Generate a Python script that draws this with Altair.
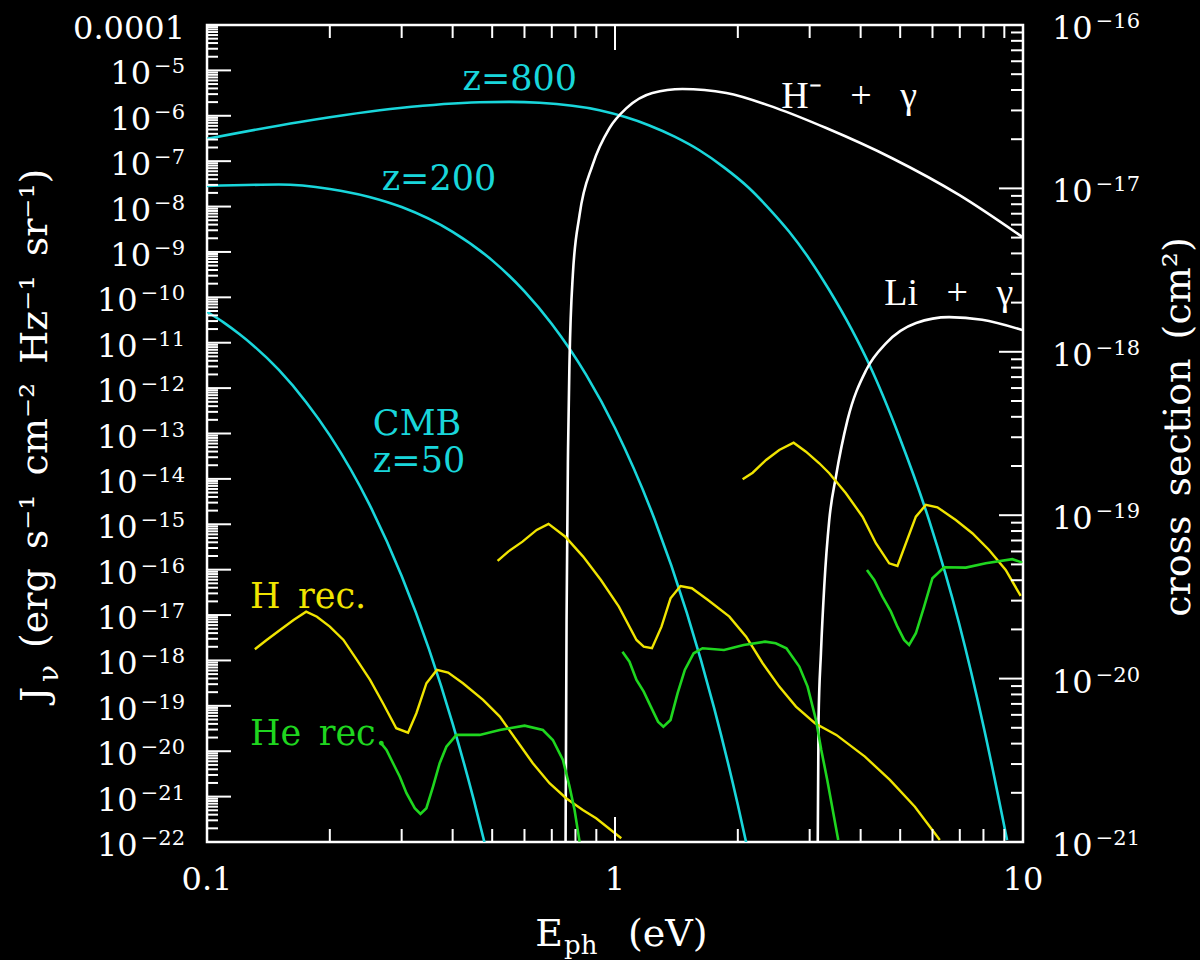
import altair as alt
import pandas as pd

# ---------------- values ----------------
# CMB spectra  J_nu (erg s^-1 cm^-2 Hz^-1 sr^-1) vs photon energy (eV)
cmb800_E = [0.1, 0.169, 0.297, 0.466, 0.55, 0.653, 0.916, 1.21, 1.4, 1.61, 1.85, 2.13, 2.4, 2.67, 3.0, 3.35, 3.8,
            4.20, 4.97, 5.89, 6.97, 8.03, 9.14]
cmb800_J = [3.09e-7, 7.30e-7, 1.48e-6, 1.98e-6, 2.02e-6, 1.93e-6, 1.32e-6, 6.2e-7, 3.47e-7, 1.74e-7, 7.31e-8, 2.57e-8,
            8.5e-9, 2.82e-9, 6.85e-10, 1.45e-10, 1.99e-11, 3.3e-12, 8.7e-14, 1.2e-15, 6.6e-18, 3.1e-20, 1.1e-22]

cmb200_E = [0.1, 0.15, 0.2, 0.25, 0.3, 0.4, 0.5, 0.6, 0.7, 0.85, 1.0, 1.25, 1.5, 1.75, 2.0, 2.10]
cmb200_J = [2.84e-8, 3.05e-8, 2.44e-8, 1.63e-8, 9.75e-9, 2.77e-9, 6.52e-10, 1.35e-10, 2.58e-11, 1.95e-12, 1.32e-13,
            1.29e-15, 1.12e-17, 8.9e-20, 6.6e-22, 9.1e-23]

cmb50_E = [0.1, 0.11, 0.12, 0.13, 0.15, 0.175, 0.2, 0.25, 0.3, 0.35, 0.4, 0.45, 0.48]
cmb50_J = [4.79e-11, 2.77e-11, 1.55e-11, 8.6e-12, 2.51e-12, 4.9e-13, 9.1e-14, 2.75e-15, 7.24e-17, 1.78e-18, 4.07e-20,
           8.9e-22, 8.9e-23]

# recombination radiation, z=50
hrec50_E = [0.131, 0.140, 0.151, 0.163, 0.175, 0.186, 0.200, 0.216, 0.233, 0.251, 0.270, 0.291, 0.311, 0.326, 0.345,
            0.366, 0.390, 0.424, 0.475, 0.522, 0.573, 0.629, 0.691, 0.759, 0.834, 0.899, 1.036]
hrec50_J = [1.77e-18, 2.83e-18, 4.70e-18, 7.80e-18, 1.19e-17, 9.2e-18, 5.55e-18, 2.83e-18, 1.03e-18, 3.72e-19, 1.14e-19,
            3.21e-20, 2.56e-20, 6.87e-20, 3.15e-19, 6.18e-19, 5.39e-19, 3.15e-19, 1.35e-19, 5.78e-20, 1.77e-20, 5.43e-21,
            1.97e-21, 9.2e-22, 5.08e-22, 3.33e-22, 1.21e-22]
herec50_E = [0.2652, 0.2754, 0.2858, 0.2969, 0.3083, 0.3230, 0.3336, 0.3449, 0.3581, 0.3718, 0.3861, 0.4087, 0.4660,
             0.5217, 0.6004, 0.6657, 0.7042, 0.7454, 0.7737, 0.7960, 0.8187]
herec50_J = [1.63e-20, 1.07e-20, 5.43e-21, 2.75e-21, 1.19e-21, 5.55e-22, 4.15e-22, 5.55e-22, 1.66e-21, 5.43e-21, 1.26e-20,
             2.29e-20, 2.29e-20, 2.94e-20, 3.66e-20, 2.94e-20, 1.77e-20, 6.43e-21, 1.66e-21, 5.08e-22, 1.02e-22]

# recombination radiation, z=200
hrec200_E = [0.5155, 0.5474, 0.5933, 0.6428, 0.6871, 0.7554, 0.8353, 0.9236, 1.022, 1.129, 1.176, 1.232, 1.300, 1.368,
             1.447, 1.543, 1.690, 1.907, 2.096, 2.301, 2.527, 2.777, 3.091, 3.487, 4.098, 4.718, 5.432, 6.254]
hrec200_J = [1.56e-16, 2.50e-16, 4.14e-16, 7.50e-16, 1.02e-15, 5.33e-16, 1.94e-16, 5.93e-17, 1.53e-17, 2.83e-18, 2.01e-18,
             1.86e-18, 5.55e-18, 2.34e-17, 4.37e-17, 3.90e-17, 2.15e-17, 9.23e-18, 3.34e-18, 8.67e-19, 2.65e-19, 9.6e-20,
             4.14e-20, 2.29e-20, 7.6e-21, 2.33e-21, 6.0e-22, 1.11e-22]
herec200_E = [1.043, 1.085, 1.129, 1.176, 1.224, 1.275, 1.314, 1.368, 1.424, 1.483, 1.559, 1.639, 1.850, 2.067, 2.332,
              2.477, 2.631, 2.829, 2.965, 3.109, 3.203, 3.313, 3.525]
herec200_J = [1.56e-18, 9.4e-19, 3.72e-19, 2.06e-19, 9.6e-20, 4.49e-20, 3.48e-20, 4.89e-20, 1.90e-19, 6.18e-19, 1.44e-18,
              1.86e-18, 1.70e-18, 2.19e-18, 2.59e-18, 2.39e-18, 1.86e-18, 7.31e-19, 2.65e-19, 4.89e-20, 1.07e-20,
              2.33e-21, 1.11e-22]

# recombination radiation, z=800
hrec800_E = [2.055, 2.175, 2.346, 2.527, 2.740, 2.938, 3.167, 3.351, 3.681, 4.043, 4.359, 4.699, 4.923, 5.164, 5.463,
             5.778, 6.169, 6.843, 7.513, 8.258, 9.07, 9.87]
hrec800_J = [9.8e-15, 1.37e-14, 2.61e-14, 4.34e-14, 6.28e-14, 3.98e-14, 2.21e-14, 1.33e-14, 4.82e-15, 1.47e-15, 3.82e-16,
             1.38e-16, 1.21e-16, 3.82e-16, 1.47e-15, 2.67e-15, 2.37e-15, 1.24e-15, 6.34e-16, 2.72e-16, 9.86e-17, 2.64e-17]
herec800_E = [4.145, 4.318, 4.524, 4.745, 4.923, 5.113, 5.259, 5.463, 5.723, 5.998, 6.407, 7.241, 8.106, 9.415, 9.96]
herec800_J = [9.86e-17, 5.93e-17, 2.54e-17, 1.19e-17, 5.55e-18, 2.83e-18, 2.19e-18, 3.97e-18, 1.53e-17, 6.47e-17,
              1.13e-16, 1.11e-16, 1.38e-16, 1.70e-16, 1.43e-16]

# photodetachment / photoionisation cross sections (cm^2), right axis
hminus_E = [0.7566, 0.7608, 0.7672, 0.7737, 0.7882, 0.8187, 0.8810, 0.9694, 1.067, 1.235, 1.463, 1.875, 2.485, 3.294,
            4.778, 6.971, 9.95]
hminus_S = [1.0e-21, 2.29e-20, 2.51e-19, 8.9e-19, 2.95e-18, 6.87e-18, 1.39e-17, 2.34e-17, 3.10e-17, 3.84e-17, 4.06e-17,
            3.84e-17, 3.10e-17, 2.34e-17, 1.53e-17, 9.12e-18, 5.05e-18]
li_E = [3.140, 3.154, 3.197, 3.257, 3.351, 3.479, 3.715, 4.128, 4.620, 5.471, 6.592, 7.941, 9.95]
li_S = [1.0e-21, 5.58e-21, 1.43e-20, 3.65e-20, 9.35e-20, 1.72e-19, 3.83e-19, 7.74e-19, 1.13e-18, 1.50e-18, 1.63e-18,
        1.57e-18, 1.36e-18]

# axis tick labels (mantissa text and superscript exponent text)
left_vals = [1e-4, 1e-5, 1e-6, 1e-7, 1e-8, 1e-9, 1e-10, 1e-11, 1e-12, 1e-13, 1e-14, 1e-15, 1e-16, 1e-17, 1e-18,
             1e-19, 1e-20, 1e-21, 1e-22]
left_base = ["0.0001"] + ["10"] * 18
left_exp = ["", "−5", "−6", "−7", "−8", "−9", "−10", "−11", "−12", "−13", "−14", "−15", "−16", "−17", "−18",
            "−19", "−20", "−21", "−22"]
right_vals = [1e-16, 1e-17, 1e-18, 1e-19, 1e-20, 1e-21]
right_base = ["10"] * 6
right_exp = ["−16", "−17", "−18", "−19", "−20", "−21"]
bottom_vals = [0.1, 1, 10]
bottom_labels = ["0.1", "1", "10"]

# in-plot annotations
ann_text = ["z=800", "z=200", "CMB", "z=50", "H\u2002rec.", "He\u2002rec."]
ann_E = [0.423, 0.268, 0.255, 0.255, 0.1274, 0.1274]
ann_J = [3.7e-6, 2.3e-8, 9.3e-14, 1.42e-14, 1.44e-17, 1.38e-20]
ann_kind = ["cmb", "cmb", "cmb", "cmb", "h", "he"]
xs_text = ["H⁻\u2002 +\u2002 γ", "Li\u2002 +\u2002 γ"]
xs_E = [2.556, 4.57]
xs_S = [3.10e-17, 1.93e-18]

# ---------------- styling ----------------
W, H = 816, 817
SERIF = "DejaVu Serif"
CYAN, YELLOW, GREEN, WHITE = "#19d6db", "#f0e400", "#1fd61f", "#ffffff"
BASE_SIZE, EXP_SIZE = 32, 21

X = alt.Scale(type="log", domain=[0.1, 10], nice=False)
YJ = alt.Scale(type="log", domain=[1e-22, 1e-4], nice=False)
YS = alt.Scale(type="log", domain=[1e-21, 1e-16], nice=False)


def curve(E, V, color, yscale, interp="monotone", width=2.6):
    d = pd.DataFrame({"E": E, "V": V, "k": list(range(len(E)))})
    return alt.Chart(d).mark_line(color=color, strokeWidth=width, clip=True, interpolate=interp).encode(
        x=alt.X("E:Q", scale=X, axis=None),
        y=alt.Y("V:Q", scale=yscale, axis=None),
        order="k:Q",
    )


def yticks(vals, yscale, x0, x1):
    d = pd.DataFrame({"v": vals})
    return alt.Chart(d).mark_rule(color=WHITE, strokeWidth=2).encode(
        y=alt.Y("v:Q", scale=yscale, axis=None), x=alt.value(x0), x2=alt.value(x1))


def xticks(vals, y0, y1):
    d = pd.DataFrame({"v": vals})
    return alt.Chart(d).mark_rule(color=WHITE, strokeWidth=2).encode(
        x=alt.X("v:Q", scale=X, axis=None), y=alt.value(y0), y2=alt.value(y1))


def fixed_text(text, x, y, size, angle=0, align="left", baseline="alphabetic", color=WHITE, font=SERIF):
    return alt.Chart(pd.DataFrame({"t": [text]})).mark_text(
        align=align, baseline=baseline, angle=angle, fontSize=size, font=font, color=color
    ).encode(x=alt.value(x), y=alt.value(y), text="t:N")


def exp_width(s):
    # approximate advance of an exponent string in DejaVu Serif at EXP_SIZE
    return 0 if not s else EXP_SIZE * (0.838 + 0.636 * (len(s) - 1))


def ylabels(vals, base, exps, yscale, side):
    rows = []
    for v, b, e in zip(vals, base, exps):
        w = exp_width(e)
        if side == "left":
            bx = -22 - (w + 3 if e else 0)
            ex = -22
        else:
            bx = W + 29
            ex = W + 29 + BASE_SIZE * 0.636 * len(b) + 3
        rows.append({"v": v, "b": b, "e": e, "bx": bx, "ex": ex})
    d = pd.DataFrame(rows)
    base_layer = alt.Chart(d).mark_text(
        align="right" if side == "left" else "left", baseline="alphabetic", dy=14,
        font=SERIF, fontSize=BASE_SIZE, color=WHITE
    ).encode(y=alt.Y("v:Q", scale=yscale, axis=None), x=alt.X("bx:Q", scale=None), text="b:N")
    exp_layer = alt.Chart(d).mark_text(
        align="right" if side == "left" else "left", baseline="alphabetic", dy=3,
        font=SERIF, fontSize=EXP_SIZE, color=WHITE
    ).encode(y=alt.Y("v:Q", scale=yscale, axis=None), x=alt.X("ex:Q", scale=None), text="e:N")
    return [base_layer, exp_layer]


decades_J = list(range(-22, -4))
decades_S = list(range(-21, -16))
left_major = [10.0 ** k for k in range(-22, -3)]
left_minor = [m * 10.0 ** k for k in decades_J for m in range(2, 10)]
right_major = [10.0 ** k for k in range(-21, -15)]
right_minor = [m * 10.0 ** k for k in decades_S for m in range(2, 10)]
x_major = [0.1, 1.0, 10.0]
x_minor = [m * 10.0 ** k for k in (-1, 0) for m in range(2, 10)]

layers = [
    curve(cmb800_E, cmb800_J, CYAN, YJ),
    curve(cmb200_E, cmb200_J, CYAN, YJ),
    curve(cmb50_E, cmb50_J, CYAN, YJ),
    curve(hminus_E, hminus_S, WHITE, YS),
    curve(li_E, li_S, WHITE, YS),
    curve(hrec50_E, hrec50_J, YELLOW, YJ, "linear", 2.4),
    curve(hrec200_E, hrec200_J, YELLOW, YJ, "linear", 2.4),
    curve(hrec800_E, hrec800_J, YELLOW, YJ, "linear", 2.4),
    curve(herec50_E, herec50_J, GREEN, YJ, "linear", 2.6),
    curve(herec200_E, herec200_J, GREEN, YJ, "linear", 2.6),
    curve(herec800_E, herec800_J, GREEN, YJ, "linear", 2.6),
    # ticks pointing into the frame
    yticks(left_major, YJ, 0, 24),
    yticks(left_minor, YJ, 0, 11),
    yticks(right_major, YS, W - 24, W),
    yticks(right_minor, YS, W - 12, W),
    xticks(x_major, H, H - 25),
    xticks(x_minor, H, H - 13),
    xticks(x_major, 0, 25),
    xticks(x_minor, 0, 13),
]

# tick labels
layers += ylabels(left_vals, left_base, left_exp, YJ, "left")
layers += ylabels(right_vals, right_base, right_exp, YS, "right")
layers.append(alt.Chart(pd.DataFrame({"v": bottom_vals, "lab": bottom_labels})).mark_text(
    align="center", baseline="alphabetic", dy=48, font=SERIF, fontSize=BASE_SIZE, color=WHITE
).encode(x=alt.X("v:Q", scale=X, axis=None), y=alt.value(H), text="lab:N"))

# in-plot annotations
ann_df = pd.DataFrame({"E": ann_E, "J": ann_J, "t": ann_text, "kind": ann_kind})
layers.append(alt.Chart(ann_df).mark_text(
    align="left", baseline="alphabetic", font=SERIF, fontSize=35
).encode(
    x=alt.X("E:Q", scale=X, axis=None),
    y=alt.Y("J:Q", scale=YJ, axis=None),
    text="t:N",
    color=alt.Color("kind:N", scale=alt.Scale(domain=["cmb", "h", "he"], range=[CYAN, YELLOW, GREEN]), legend=None),
))
layers.append(alt.Chart(pd.DataFrame({"E": xs_E, "S": xs_S, "t": xs_text})).mark_text(
    align="left", baseline="alphabetic", font="Liberation Serif", fontSize=38, color=WHITE
).encode(x=alt.X("E:Q", scale=X, axis=None), y=alt.Y("S:Q", scale=YS, axis=None), text="t:N"))

# axis titles
layers += [
    fixed_text("J", -160, 677, 38, angle=270),
    fixed_text("ν", -149, 657, 28, angle=270),
    fixed_text("(erg\u2002s⁻¹\u2002cm⁻²\u2002Hz⁻¹\u2002sr⁻¹)", -160, 623, 38, angle=270),
    fixed_text("cross\u2002section\u2002(cm²)", 983, 402, 38, angle=270, align="center"),
    fixed_text("E", 356, 921, 38, align="right"),
    fixed_text("ph", 357, 929, 26),
    fixed_text("(eV)", 421, 921, 38),
]

chart = alt.layer(*layers).resolve_scale(y="independent").properties(
    width=W,
    height=H,
    padding={"left": 207, "top": 25, "right": 177, "bottom": 118},
    autosize=alt.AutoSizeParams(type="none"),
    background="black",
).configure_view(stroke=WHITE, strokeWidth=2.5)

chart.save("out.html", embed_options={"renderer": "svg", "actions": False})
